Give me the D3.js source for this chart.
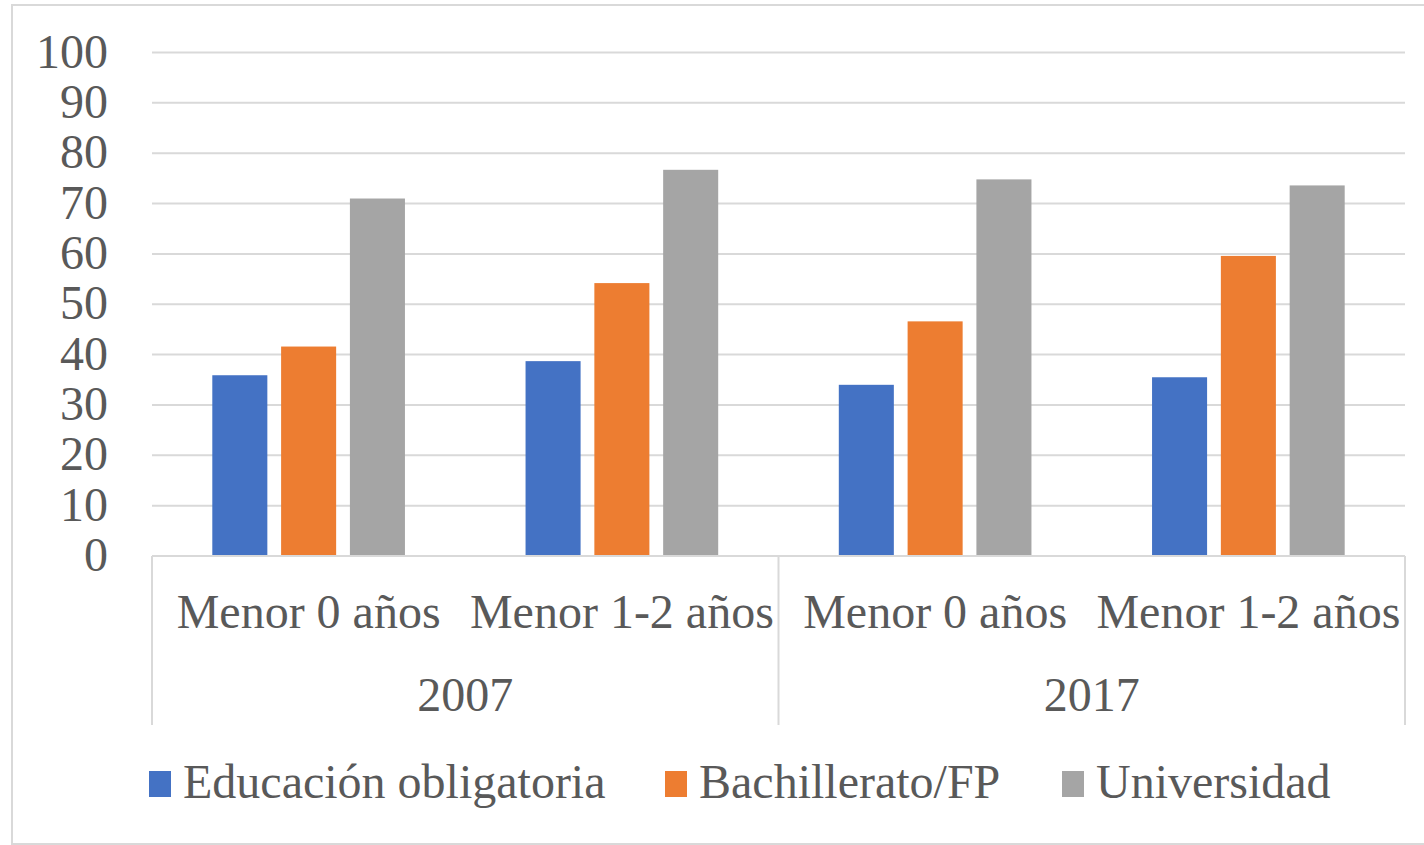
<!DOCTYPE html>
<html>
<head>
<meta charset="utf-8" />
<script src="https://d3js.org/d3.v7.min.js"></script>
<style>
    body { margin: 0; background: #fff; }
    text { font-family: "Liberation Serif", "Times New Roman", serif; fill: #595959; }
</style>
</head>
<body>
<svg width="1424" height="845"></svg>
<script>
    // data
    var years = ["2007", "2017"];
    var categories = ["Menor 0 años", "Menor 1-2 años"];
    var series = ["Educación obligatoria", "Bachillerato/FP", "Universidad"];
    var colors = ["#4472c4", "#ed7d31", "#a5a5a5"];
    var educacion = [35.9, 38.7, 34.0, 35.5];
    var bachillerato = [41.6, 54.2, 46.6, 59.6];
    var universidad = [71.0, 76.7, 74.8, 73.6];
    var yTicks = [0, 10, 20, 30, 40, 50, 60, 70, 80, 90, 100];

    var values = [educacion, bachillerato, universidad];

    var svg = d3.select("svg");

    // outer chart border
    svg.append("rect")
        .attr("x", 12).attr("y", 5)
        .attr("width", 1430).attr("height", 839)
        .attr("fill", "none")
        .attr("stroke", "#d9d9d9")
        .attr("stroke-width", 2);

    var plotLeft = 152, plotRight = 1405, plotTop = 52.5, plotBottom = 556;

    var slots = [];
    years.forEach(function (yr) {
        categories.forEach(function (c) { slots.push(yr + "|" + c); });
    });

    var x = d3.scaleBand().domain(slots).range([plotLeft, plotRight]).paddingInner(0.385).paddingOuter(0.1925);
    var step = (plotRight - plotLeft) / slots.length;
    var xs = d3.scaleBand().domain(series).range([0, x.bandwidth()]).paddingInner(0.2);
    var y = d3.scaleLinear().domain([0, 100]).range([plotBottom, plotTop]);

    // gridlines
    svg.append("g").selectAll("line")
        .data(yTicks.filter(function (d) { return d > 0; }))
        .enter().append("line")
        .attr("x1", plotLeft).attr("x2", plotRight)
        .attr("y1", function (d) { return y(d); })
        .attr("y2", function (d) { return y(d); })
        .attr("stroke", "#d9d9d9")
        .attr("stroke-width", 2);

    // y labels
    svg.append("g").selectAll("text")
        .data(yTicks)
        .enter().append("text")
        .attr("x", 108)
        .attr("y", function (d) { return y(d) + 15; })
        .attr("text-anchor", "end")
        .style("font-size", "48px")
        .text(function (d) { return d; });

    // bars
    series.forEach(function (s, si) {
        svg.append("g").selectAll("rect")
            .data(values[si])
            .enter().append("rect")
            .attr("x", function (d, i) { return x(slots[i]) + xs(s); })
            .attr("y", function (d) { return y(d); })
            .attr("width", xs.bandwidth())
            .attr("height", function (d) { return y(0) - y(d); })
            .attr("fill", colors[si]);
    });

    // category axis
    svg.append("line")
        .attr("x1", plotLeft).attr("x2", plotRight)
        .attr("y1", plotBottom).attr("y2", plotBottom)
        .attr("stroke", "#d9d9d9").attr("stroke-width", 2);

    var groupW = step * categories.length;
    d3.range(years.length + 1).forEach(function (i) {
        svg.append("line")
            .attr("x1", plotLeft + i * groupW).attr("x2", plotLeft + i * groupW)
            .attr("y1", plotBottom).attr("y2", 725)
            .attr("stroke", "#d9d9d9").attr("stroke-width", 2);
    });

    svg.append("g").selectAll("text")
        .data(slots)
        .enter().append("text")
        .attr("x", function (d) { return x(d) + x.bandwidth() / 2; })
        .attr("y", 628)
        .attr("text-anchor", "middle")
        .style("font-size", "48px")
        .text(function (d) { return d.split("|")[1]; });

    svg.append("g").selectAll("text")
        .data(years)
        .enter().append("text")
        .attr("x", function (d, i) { return plotLeft + groupW * (i + 0.5); })
        .attr("y", 711)
        .attr("text-anchor", "middle")
        .style("font-size", "48px")
        .text(function (d) { return d; });

    // legend
    var legendX = [149, 665, 1062];
    var legend = svg.append("g").selectAll("g")
        .data(series)
        .enter().append("g")
        .attr("transform", function (d, i) { return "translate(" + legendX[i] + ",0)"; });
    legend.append("rect")
        .attr("x", 0).attr("y", 771)
        .attr("width", 22).attr("height", 26)
        .attr("fill", function (d, i) { return colors[i]; });
    legend.append("text")
        .attr("x", 34).attr("y", 798)
        .style("font-size", "48px")
        .text(function (d) { return d; });
</script>
</body>
</html>
